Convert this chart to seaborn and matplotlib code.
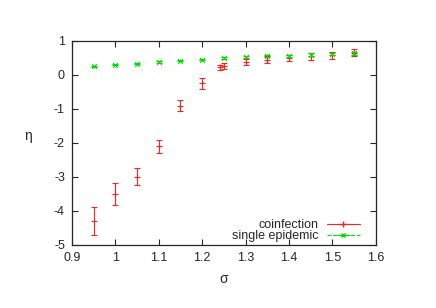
import numpy as np
import pandas as pd
import matplotlib
matplotlib.use("Agg")
import matplotlib.pyplot as plt
import seaborn as sns

# coinfection
sigma_co = [0.95, 1.00, 1.05, 1.10, 1.15, 1.20, 1.24, 1.25, 1.30, 1.35, 1.40, 1.45, 1.50, 1.55]
eta_co = [-4.3, -3.5, -3.0, -2.1, -0.9, -0.25, 0.22, 0.26, 0.38, 0.45, 0.50, 0.55, 0.58, 0.65]
err_co = [0.40, 0.33, 0.25, 0.20, 0.17, 0.15, 0.07, 0.08, 0.08, 0.10, 0.08, 0.10, 0.10, 0.10]

# single epidemic
sigma_si = [0.95, 1.00, 1.05, 1.10, 1.15, 1.20, 1.25, 1.30, 1.35, 1.40, 1.45, 1.50, 1.55]
eta_si = [0.25, 0.30, 0.33, 0.38, 0.42, 0.45, 0.50, 0.52, 0.55, 0.57, 0.60, 0.62, 0.64]
err_si = [0.02, 0.02, 0.02, 0.02, 0.02, 0.02, 0.03, 0.03, 0.03, 0.03, 0.04, 0.04, 0.04]

xticks = [0.9, 1, 1.1, 1.2, 1.3, 1.4, 1.5, 1.6]
xticklabels = ["0.9", "1", "1.1", "1.2", "1.3", "1.4", "1.5", "1.6"]
yticks = [-5, -4, -3, -2, -1, 0, 1]

sns.set_style("ticks")
plt.rcParams['font.family'] = ['Liberation Sans', 'DejaVu Sans']
plt.rcParams['axes.unicode_minus'] = False

fig = plt.figure(figsize=(4.36, 3.08), dpi=100)
ax = fig.add_axes([0.165, 0.205, 0.697, 0.662])

red = "#ff2020"
green = "#00dd00"

df_co = pd.DataFrame({"sigma": sigma_co, "eta": eta_co})
df_si = pd.DataFrame({"sigma": sigma_si, "eta": eta_si})

ax.errorbar(sigma_co, eta_co, yerr=err_co, fmt="none", ecolor=red,
            elinewidth=0.8, capsize=2, capthick=0.8)
sns.scatterplot(data=df_co, x="sigma", y="eta", marker="+", color=red,
                s=20, linewidth=0.8, ax=ax, legend=False)
ax.errorbar(sigma_si, eta_si, yerr=err_si, fmt="none", ecolor=green,
            elinewidth=0.8, capsize=2, capthick=0.8)
sns.scatterplot(data=df_si, x="sigma", y="eta", marker="x", color=green,
                s=12, linewidth=0.8, ax=ax, legend=False)

# legend proxies
lc = ax.errorbar([], [], xerr=[], fmt="-+", color=red, lw=0.8, ms=5,
                 capsize=2, label="coinfection")
ls = ax.errorbar([], [], xerr=[], fmt="--x", color=green, lw=0.8, ms=3,
                 capsize=2, label="single epidemic")

ax.set_xlim(0.9, 1.6)
ax.set_ylim(-5, 1)
ax.set_xticks(xticks)
ax.set_xticklabels(xticklabels)
ax.set_yticks(yticks)
ax.tick_params(direction="in", top=True, right=True, length=4, width=0.8,
               labelsize=9, pad=5)
for sp in ax.spines.values():
    sp.set_linewidth(0.9)
    sp.set_visible(True)

ax.set_xlabel("σ", fontsize=10, labelpad=6)
ax.set_ylabel("η", fontsize=10, rotation=0)
ax.yaxis.set_label_coords(-0.145, 0.5)

ax.legend(handles=[lc, ls], loc="lower right", bbox_to_anchor=(0.955, 0.0),
          frameon=False, markerfirst=False, fontsize=9, handlelength=2.6,
          handletextpad=0.7, borderaxespad=0.0, labelspacing=-0.05,
          borderpad=0.2)

fig.savefig("out.png", dpi=100)
